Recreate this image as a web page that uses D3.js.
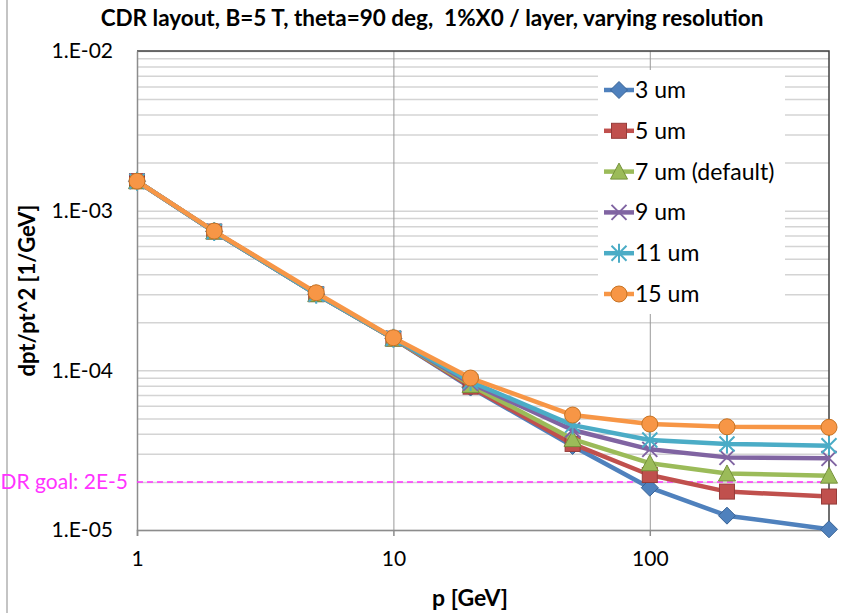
<!DOCTYPE html>
<html>
<head>
<meta charset="utf-8">
<script src="https://cdn.jsdelivr.net/npm/d3@7"></script>
<style>
  html, body { margin: 0; padding: 0; background: #fff; }
  svg { display: block; font-family: Lato, "Open Sans", sans-serif; }
</style>
</head>
<body>
<svg id="chart" width="852" height="613"></svg>
<script>
// Momentum points (GeV)
const momenta = [1, 2, 5, 10, 20, 50, 100, 200, 500];

// dpt/pt^2 [1/GeV] for each single-point resolution
const res3um  = [1.53e-3, 7.40e-4, 3.00e-4, 1.58e-4, 7.8e-5, 3.36e-5, 1.84e-5, 1.23e-5, 1.01e-5];
const res5um  = [1.53e-3, 7.40e-4, 3.00e-4, 1.58e-4, 7.9e-5, 3.46e-5, 2.21e-5, 1.74e-5, 1.62e-5];
const res7um  = [1.53e-3, 7.40e-4, 3.00e-4, 1.58e-4, 8.1e-5, 3.71e-5, 2.62e-5, 2.26e-5, 2.19e-5];
const res9um  = [1.53e-3, 7.40e-4, 3.00e-4, 1.59e-4, 8.3e-5, 4.23e-5, 3.20e-5, 2.85e-5, 2.81e-5];
const res11um = [1.53e-3, 7.40e-4, 3.00e-4, 1.59e-4, 8.5e-5, 4.54e-5, 3.66e-5, 3.46e-5, 3.37e-5];
const res15um = [1.53e-3, 7.45e-4, 3.06e-4, 1.60e-4, 8.95e-5, 5.25e-5, 4.61e-5, 4.43e-5, 4.40e-5];

const seriesNames = ["3 um", "5 um", "7 um (default)", "9 um", "11 um", "15 um"];
const seriesValues = [res3um, res5um, res7um, res9um, res11um, res15um];

// Axis ticks
const xTickValues = [1, 10, 100];
const yTickValues = [1e-5, 1e-4, 1e-3, 1e-2];
const goalValue = 2e-5;
const goalLabel = "CDR goal: 2E-5";

const colors = ["#4f81bd", "#c0504d", "#9bbb59", "#8064a2", "#4bacc6", "#f79646"];
const strokes = ["#3a6496", "#963c3a", "#76923c", "#5f4a7b", "#31859c", "#c77323"];
const shapes = ["diamond", "square", "triangle", "x", "star", "circle"];

const svg = d3.select("#chart");
const plotL = 137, plotR = 829, plotT = 51, plotB = 530;

const x = d3.scaleLog().domain([1, 500]).range([plotL, plotR]);
const y = d3.scaleLog().domain([1e-5, 1e-2]).range([plotB, plotT]);

// outer chart frame edge
svg.append("line").attr("x1", 7).attr("x2", 7).attr("y1", 0).attr("y2", 613)
  .attr("stroke", "#b0b0b0").attr("stroke-width", 1.5);

// minor + major horizontal gridlines
const yGrid = [];
for (let e = -5; e < -2; e++) for (let m = 1; m < 10; m++) yGrid.push(m * Math.pow(10, e));
yGrid.push(1e-2);
svg.append("g").attr("transform", `translate(${plotL},0)`)
  .call(d3.axisRight(y).tickValues(yGrid).tickSize(plotR - plotL).tickFormat(""))
  .call(g => g.select(".domain").remove())
  .call(g => g.selectAll("line").attr("stroke", "#d4d4d4").attr("stroke-width", 1.5));

// vertical major gridlines
svg.append("g").attr("transform", `translate(0,${plotT})`)
  .call(d3.axisBottom(x).tickValues([10, 100]).tickSize(plotB - plotT).tickFormat(""))
  .call(g => g.select(".domain").remove())
  .call(g => g.selectAll("line").attr("stroke", "#9a9a9a").attr("stroke-width", 1));

// top and right plot border
svg.append("path")
  .attr("d", `M${plotL},${plotT}H${plotR}V${plotB}`)
  .attr("fill", "none").attr("stroke", "#404040").attr("stroke-width", 1.5);

// y axis
svg.append("g").attr("transform", `translate(${plotL},0)`)
  .call(d3.axisLeft(y).tickValues(yTickValues).tickSize(0).tickPadding(24)
    .tickFormat(v => "1.E-" + String(Math.round(-Math.log10(v))).padStart(2, "0")))
  .call(g => g.select(".domain").attr("stroke", "#8c8c8c").attr("stroke-width", 1.5))
  .call(g => g.selectAll("text").attr("font-size", 21).attr("fill", "#000")
    .attr("font-family", "Lato, sans-serif"));

// x axis
svg.append("g").attr("transform", `translate(0,${plotB})`)
  .call(d3.axisBottom(x).tickValues(xTickValues).tickSize(6).tickPadding(15)
    .tickFormat(d3.format("d")))
  .call(g => g.select(".domain").attr("stroke", "#8c8c8c").attr("stroke-width", 1.5))
  .call(g => g.selectAll("line").attr("stroke", "#8c8c8c").attr("stroke-width", 1.5))
  .call(g => g.selectAll("text").attr("font-size", 21).attr("fill", "#000")
    .attr("font-family", "Lato, sans-serif"));

// goal line
svg.append("line")
  .attr("x1", plotL).attr("x2", plotR).attr("y1", y(goalValue)).attr("y2", y(goalValue))
  .attr("stroke", "#ff33ff").attr("stroke-width", 1.5).attr("stroke-dasharray", "6,4");
svg.append("text").attr("x", 128).attr("y", y(goalValue) + 7)
  .attr("text-anchor", "end").attr("font-size", 21).attr("fill", "#ff33ff")
  .text(goalLabel);

// marker drawing
function drawMarker(g, shape, i, cx, cy) {
  const fill = colors[i], stroke = strokes[i];
  const m = g.append("g").attr("transform", `translate(${cx},${cy})`);
  if (shape === "circle") {
    m.append("circle").attr("r", 8).attr("fill", fill).attr("stroke", stroke).attr("stroke-width", 1);
  } else if (shape === "square") {
    m.append("rect").attr("x", -7.5).attr("y", -7.5).attr("width", 15).attr("height", 15)
      .attr("fill", fill).attr("stroke", stroke).attr("stroke-width", 1);
  } else if (shape === "diamond") {
    m.append("path").attr("d", "M0,-8.5L8.5,0L0,8.5L-8.5,0Z")
      .attr("fill", fill).attr("stroke", stroke).attr("stroke-width", 1);
  } else if (shape === "triangle") {
    m.append("path").attr("d", "M0,-8.5L8.5,7.5L-8.5,7.5Z")
      .attr("fill", fill).attr("stroke", stroke).attr("stroke-width", 1);
  } else if (shape === "x") {
    m.append("path").attr("d", "M-7.5,-7.5L7.5,7.5M-7.5,7.5L7.5,-7.5")
      .attr("stroke", fill).attr("stroke-width", 2);
  } else if (shape === "star") {
    m.append("path").attr("d", "M-7.5,-7.5L7.5,7.5M-7.5,7.5L7.5,-7.5M0,-9.5L0,9.5")
      .attr("stroke", fill).attr("stroke-width", 2);
  }
}

const line = d3.line().x(d => x(d[0])).y(d => y(d[1]));
const plot = svg.append("g");
seriesValues.forEach((vals, i) => {
  const pts = momenta.map((p, k) => [p, vals[k]]);
  plot.append("path").datum(pts).attr("d", line)
    .attr("fill", "none").attr("stroke", colors[i]).attr("stroke-width", 4.5)
    .attr("stroke-linejoin", "round");
  pts.forEach(d => drawMarker(plot, shapes[i], i, x(d[0]), y(d[1])));
});

// legend
const legend = svg.append("g");
legend.append("rect").attr("x", 598).attr("y", 70).attr("width", 187).attr("height", 244).attr("fill", "#fff");
seriesNames.forEach((name, i) => {
  const ly = 90 + i * 40.8;
  legend.append("line").attr("x1", 604).attr("x2", 634).attr("y1", ly).attr("y2", ly)
    .attr("stroke", colors[i]).attr("stroke-width", 4.5);
  drawMarker(legend, shapes[i], i, 619, ly);
  legend.append("text").attr("x", 635).attr("y", ly + 8).attr("font-size", 23).text(name);
});

// titles
svg.append("text").attr("x", 432).attr("y", 26).attr("text-anchor", "middle")
  .attr("font-size", 22.5).attr("font-weight", "bold")
  .style("white-space", "pre")
  .text("CDR layout, B=5 T, theta=90 deg,  1%X0 / layer, varying resolution");
svg.append("text").attr("x", 470).attr("y", 606).attr("text-anchor", "middle")
  .attr("font-size", 23).attr("font-weight", "bold").text("p [GeV]");
svg.append("text").attr("transform", `translate(35,${(plotT + plotB) / 2}) rotate(-90)`)
  .attr("text-anchor", "middle").attr("font-size", 22).attr("font-weight", "bold")
  .text("dpt/pt^2 [1/GeV]");
</script>
</body>
</html>
